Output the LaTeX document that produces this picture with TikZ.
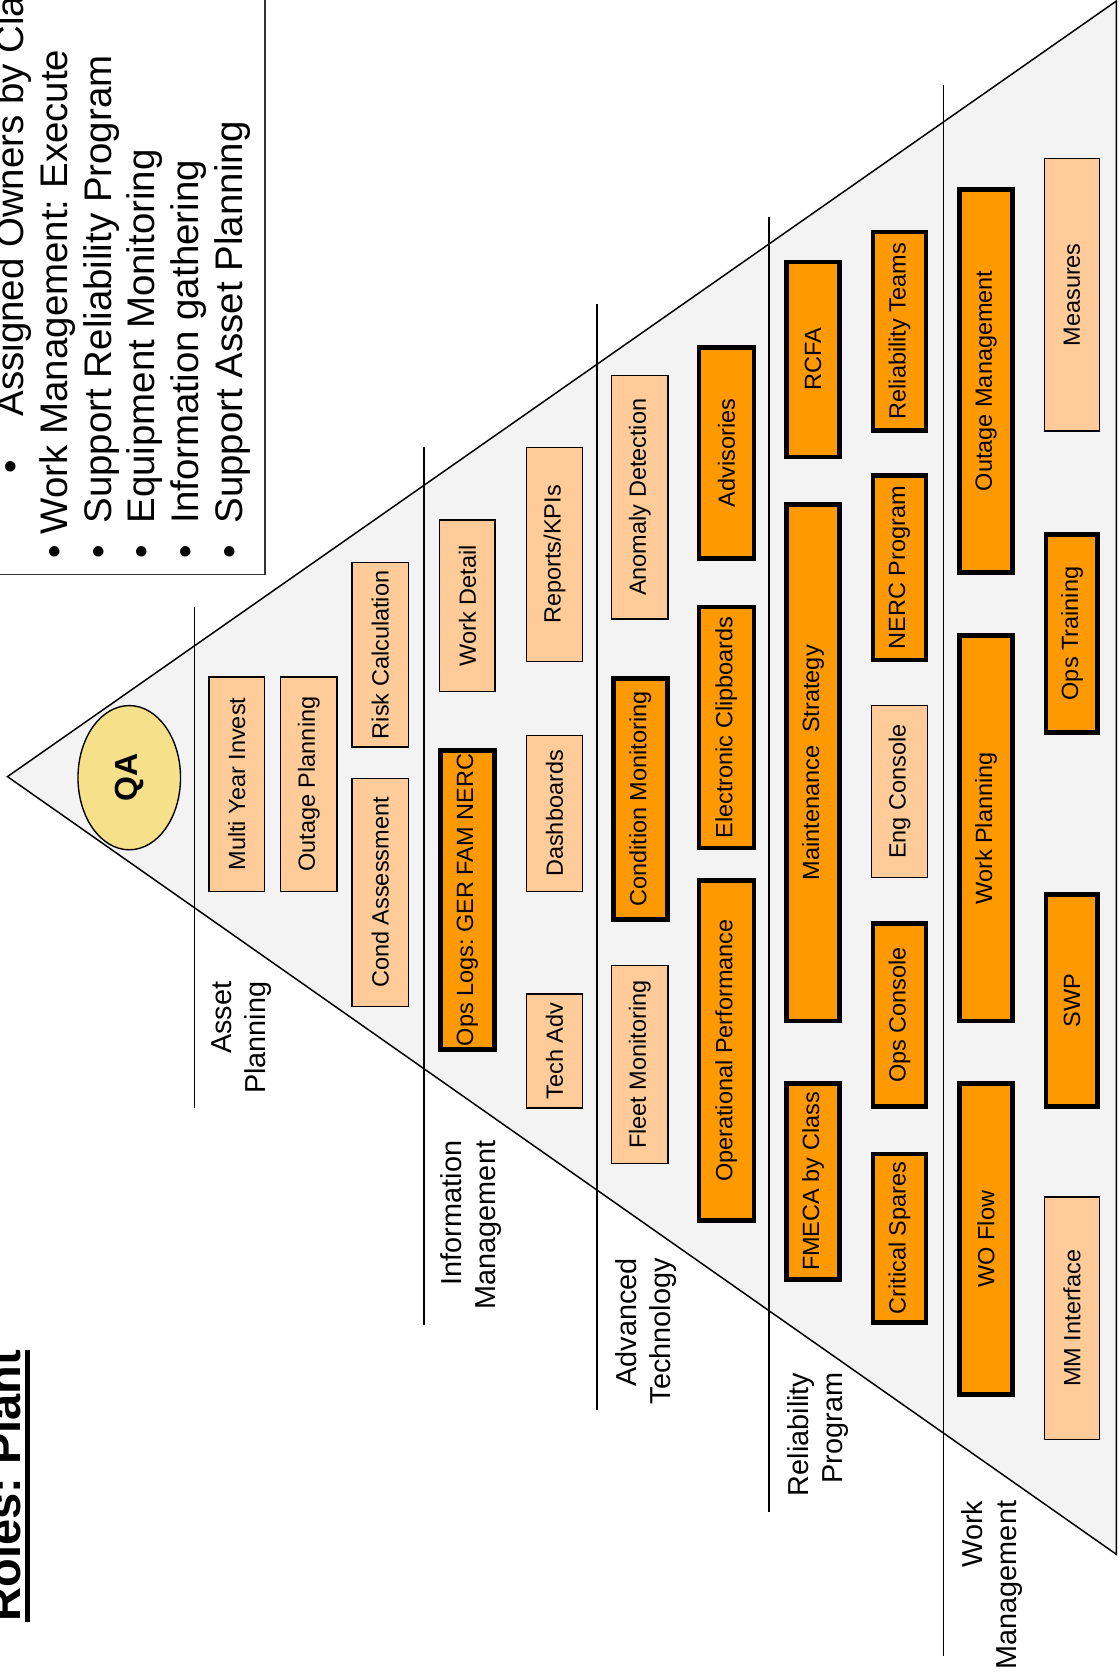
\documentclass[tikz,border=0pt]{standalone}
\usepackage{fontspec}
\setmainfont{Liberation Sans}
\usetikzlibrary{shapes.geometric}
\frenchspacing
\definecolor{trifill}{HTML}{F3F3F3}
\definecolor{peach}{HTML}{FFCC99}
\definecolor{amber}{HTML}{FF9900}
\definecolor{qafill}{HTML}{F6E08A}
\newcommand\fs[2]{\fontsize{#1}{#2}\selectfont}
% light cell: name, x-left, x-right, y-top, y-bottom, text
\newcommand\lightcell[6]{\node[lightbox, minimum width={#5-#4-1.3}, minimum height={#3-#2-1.3}] (#1) at ({(#2+#3)/2},{(#4+#5)/2}) {#6};}
% heavy cell: same arguments, thick outline
\newcommand\heavycell[6]{\node[heavybox, minimum width={#5-#4-4.5}, minimum height={#3-#2-4.5}] (#1) at ({(#2+#3)/2},{(#4+#5)/2}) {#6};}
\begin{document}
\begin{tikzpicture}[x=1pt,y=-1pt,
  every node/.style={inner sep=0pt, outer sep=0pt},
  lightbox/.style={draw=black, line width=1.3pt, fill=peach, rotate=90, font=\fs{22}{25}},
  heavybox/.style={draw=black, line width=4.5pt, fill=amber, rotate=90, font=\fs{22}{25}},
  divider/.style={line width=1.4pt},
  layerlabel/.style={rotate=90, align=right, anchor=north east, font=\fs{27}{32}},
  bullettext/.style={rotate=90, anchor=base west, font=\fs{36}{41}},
]
\fill[white] (0,0) rectangle (1047,1568);
\useasboundingbox (0,0) rectangle (1047,1568);

% pyramid
\filldraw[fill=trifill, draw=black, line width=1.4pt] (7,727) -- (1045,1) -- (1045,1455) -- cycle;

% layer dividers
\draw[divider] (182,568) -- (182,1037);
\draw[divider] (397,418) -- (397,1240);
\draw[divider] (559,285) -- (559,1320);
\draw[divider] (720,203) -- (720,1415);
\draw[divider] (883,80) -- (883,1550);

% layer labels
\node[layerlabel] (lblAsset) at (198,919) {Asset\\Planning};
\node[layerlabel] (lblInfo) at (412,1068) {Information\\Management};
\node[layerlabel] (lblAdv) at (576,1178) {Advanced\\Technology};
\node[layerlabel] (lblRel) at (737,1285) {Reliability\\Program};
\node[layerlabel] (lblWork) at (900,1405) {Work\\Management};

% apex
\node[ellipse, draw=black, line width=1.3pt, fill=qafill, rotate=90,
  minimum width=135, minimum height=96, font=\fs{30}{34}\bfseries] (qa) at (121,728) {QA};

% asset planning
\lightcell{multiYear}{195}{248}{633}{835}{Multi Year Invest}
\lightcell{outPlan}{262}{316}{633}{835}{Outage Planning}
\lightcell{riskCalc}{329}{383}{526}{700}{Risk Calculation}
\lightcell{condAss}{329}{383}{728}{943}{Cond Assessment}

% information management
\lightcell{workDetail}{411}{464}{486}{648}{Work Detail}
\heavycell{opsLogs}{410}{465}{700}{985}{Ops Logs: GER FAM NERC}
\lightcell{reports}{492}{546}{418}{620}{Reports/KPIs}
\lightcell{dashboards}{492}{546}{688}{835}{Dashboards}
\lightcell{techAdv}{492}{546}{930}{1038}{Tech Adv}

% advanced technology
\lightcell{anomaly}{572}{626}{351}{580}{Anomaly Detection}
\heavycell{condMon}{572}{627}{633}{863}{Condition Monitoring}
\lightcell{fleetMon}{572}{626}{903}{1090}{Fleet Monitoring}
\heavycell{advisories}{652}{708}{323}{525}{Advisories}
\heavycell{eClip}{652}{708}{566}{796}{Electronic Clipboards}
\heavycell{opPerf}{652}{708}{822}{1145}{Operational Performance}

% reliability program
\heavycell{rcfa}{734}{788}{243}{430}{RCFA}
\heavycell{maintStrat}{734}{788}{470}{958}{Maintenance~~Strategy}
\heavycell{fmeca}{734}{788}{1012}{1200}{FMECA by Class}
\heavycell{relTeams}{815}{869}{215}{405}{Reliability Teams}
\heavycell{nercProg}{815}{869}{443}{620}{NERC Program}
\lightcell{engConsole}{815}{869}{660}{822}{Eng Console}
\heavycell{opsConsole}{815}{869}{862}{1038}{Ops Console}
\heavycell{critSpares}{815}{869}{1078}{1240}{Critical Spares}

% work management
\heavycell{outMgmt}{896}{950}{175}{538}{Outage Management}
\heavycell{workPlan}{896}{950}{593}{958}{Work Planning}
\heavycell{woFlow}{896}{950}{1012}{1308}{WO Flow}
\lightcell{measures}{977}{1030}{148}{404}{Measures}
\heavycell{opsTrain}{977}{1030}{498}{688}{Ops Training}
\heavycell{swp}{977}{1030}{835}{1038}{SWP}
\lightcell{mmIface}{977}{1030}{1120}{1348}{MM Interface}

% role notes
\draw[line width=1.4pt, draw=black!80] (-10,-10) rectangle (248,538);
\node[bullettext] (dot1) at (22,443) {•};
\node[bullettext] (note1) at (22,390) {Assigned Owners by Class};
\node[bullettext] (dot2) at (63,523) {•};
\node[bullettext] (note2) at (63,500) {Work Management: Execute};
\node[bullettext] (dot3) at (104,523) {•};
\node[bullettext] (note3) at (104,490) {Support Reliability Program};
\node[bullettext] (dot4) at (145,523) {•};
\node[bullettext] (note4) at (145,490) {Equipment Monitoring};
\node[bullettext] (dot5) at (186,523) {•};
\node[bullettext] (note5) at (186,490) {Information gathering};
\node[bullettext] (dot6) at (227,523) {•};
\node[bullettext] (note6) at (227,490) {Support Asset Planning};

% title
\node[rotate=90, anchor=base west, font=\fs{44}{50}\bfseries] (title) at (19,1518) {Roles: Plant};
\draw[line width=4.5pt] ([xshift=7pt]title.base west) -- ([xshift=7pt]title.base east);
\end{tikzpicture}
\end{document}
